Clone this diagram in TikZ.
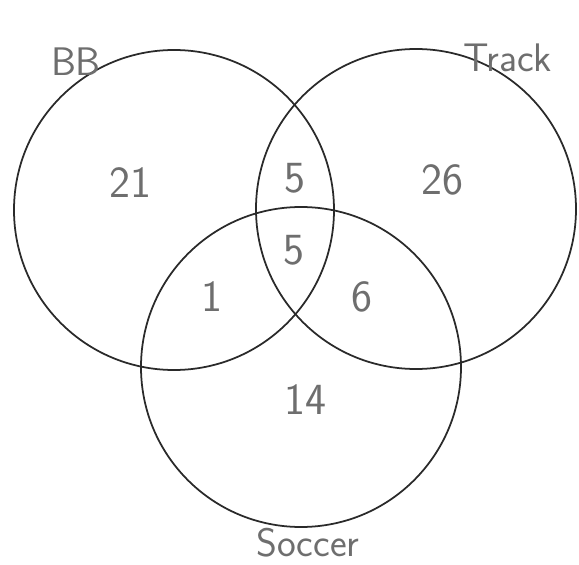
\documentclass[tikz,border=0pt]{standalone}
\usepackage{tikz}
\usetikzlibrary{positioning}
\definecolor{Ink}{HTML}{2A2A2A}
\definecolor{Pencil}{HTML}{6E6E6E}
\tikzset{
  ring/.style={circle,draw=Ink,line width=1.5pt,minimum size=9.6cm,inner sep=0pt},
  count/.style={font=\sffamily\fontsize{38}{40}\selectfont,text=Pencil},
  setname/.style={font=\sffamily\fontsize{34}{36}\selectfont,text=Pencil,inner sep=1pt}
}
\begin{document}
\begin{tikzpicture}[x=0.03cm,y=-0.03cm]
  \useasboundingbox (0,0) rectangle (579,565);
  % the three sets
  \node[ring] (bb) at (174,210) {};
  \node[ring] (track) at (416,209) {};
  \node[ring] (soccer) at (301,367) {};
  % set names
  \node[setname] (bbname) at (76,62) {BB};
  \node[setname] (trackname) at (508,58) {Track};
  \node[setname] (soccername) at (308,543) {Soccer};
  % region counts
  \node[count] (onlybb) at (130,183) {21};
  \node[count] (bbtrack) at (295,178) {5};
  \node[count] (onlytrack) at (442,180) {26};
  \node[count] (all) at (294,250) {5};
  \node[count] (bbsoccer) at (212,297) {1};
  \node[count] (tracksoccer) at (362,297) {6};
  \node[count] (onlysoccer) at (305,400) {14};
\end{tikzpicture}
\end{document}
